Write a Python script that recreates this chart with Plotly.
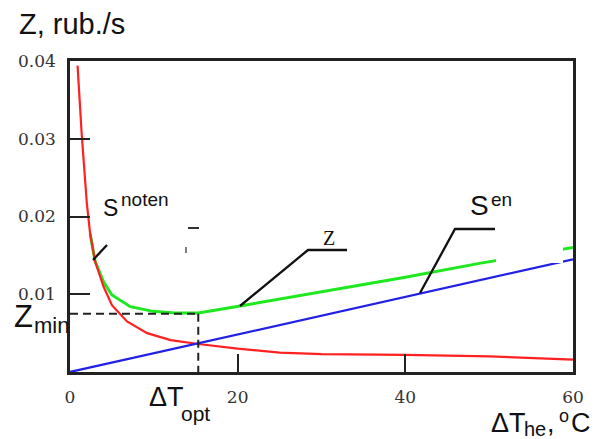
import plotly.graph_objects as go

# ---- data ----
red_x = [0.9, 1.4, 2.0, 2.4, 3.0, 4.0, 5.0, 6.8, 9.2, 12.0, 15.3, 20.0, 25.0, 30.0, 40.0, 50.0, 60.0]
red_y = [0.0394, 0.0305, 0.0218, 0.0178, 0.0142, 0.0110, 0.0086, 0.0065, 0.0050, 0.0041, 0.0036,
         0.0030, 0.0025, 0.0023, 0.0022, 0.0020, 0.0016]

green_x = [2.4, 3.0, 4.0, 5.0, 7.2, 9.9, 12.5, 15.3, 20.3, 30.0, 40.0, 49.0, 60.0]
green_y = [0.0178, 0.0142, 0.0116, 0.0099, 0.0084, 0.0078, 0.0076, 0.0076, 0.0085, 0.0103, 0.0122,
           0.0140, 0.0160]

blue_x = [0.0, 60.0]
blue_y = [0.0, 0.0145]

t_opt = 15.3
z_min = 0.0075

x_ticks = [0, 20, 40, 60]
x_ticklabels = ["0", "20", "40", "60"]
y_ticks = [0.01, 0.02, 0.03, 0.04]
y_ticklabels = ["0.01", "0.02", "0.03", "0.04"]

# ---- geometry helpers (viewport pixel -> coords) ----
W, H = 601, 439
OFF = 8  # default page body margin
PL, PR, PT, PB = 70, 573, 61, 372
XMAX, YMAX = 60.0, 0.04


def dx(px):
    return (px - PL) / (PR - PL) * XMAX


def dy(py):
    return (PB - py) / (PB - PT) * YMAX


def qx(px):
    return (px - PL) / (PR - PL)


def qy(py):
    return (PB - py) / (PB - PT)


fig = go.Figure()
fig.add_trace(go.Scatter(x=green_x, y=green_y, mode="lines",
                         line=dict(color="#1ee81e", width=3), hoverinfo="skip"))
fig.add_trace(go.Scatter(x=red_x, y=red_y, mode="lines",
                         line=dict(color="#ff2020", width=2.2), hoverinfo="skip"))
fig.add_trace(go.Scatter(x=blue_x, y=blue_y, mode="lines",
                         line=dict(color="#2020e6", width=2.2), hoverinfo="skip"))

shapes = []
# dashed optimum guides
shapes.append(dict(type="line", xref="x", yref="y", x0=0, y0=z_min, x1=t_opt, y1=z_min,
                   line=dict(color="#222", width=2, dash="8px,5px")))
shapes.append(dict(type="line", xref="x", yref="y", x0=t_opt, y0=z_min, x1=t_opt, y1=0,
                   line=dict(color="#222", width=2, dash="8px,5px")))
# white patch (erased area near S^en)
shapes.append(dict(type="rect", xref="x", yref="y", x0=dx(496), x1=dx(563), y0=dy(263), y1=dy(222),
                   fillcolor="white", line=dict(width=0), layer="above"))


def path(points):
    return "M " + " L ".join(f"{dx(a)},{dy(b)}" for a, b in points)


# leader lines
shapes.append(dict(type="path", xref="x", yref="y", path=path([(240, 306), (308, 250), (347, 250)]),
                   line=dict(color="#111", width=2.3)))
shapes.append(dict(type="path", xref="x", yref="y", path=path([(420, 293), (455, 229), (495, 229)]),
                   line=dict(color="#111", width=2.3)))
shapes.append(dict(type="path", xref="x", yref="y", path=path([(93, 260), (107, 245)]),
                   line=dict(color="#111", width=2.3)))
# small remnants
shapes.append(dict(type="path", xref="x", yref="y", path=path([(188, 228), (199, 228)]),
                   line=dict(color="#333", width=2)))
shapes.append(dict(type="path", xref="x", yref="y", path=path([(186, 247), (186, 253)]),
                   line=dict(color="#555", width=1.5)))

ann = []
SANS = "Liberation Sans, Arial, sans-serif"
SERIF = "Liberation Serif, Times New Roman, serif"


def label(text, px, py, size, family=SANS, xanchor="left", color="#111"):
    ann.append(dict(text=text, xref="paper", yref="paper", x=qx(px), y=qy(py),
                    xanchor=xanchor, yanchor="middle", showarrow=False,
                    font=dict(family=family, size=size, color=color)))


label("Z, rub./s", 17, 24, 29)
label("Z", 12, 316, 31)
label("min", 32, 325, 22)
label("ΔT", 147, 397, 27)
label("opt", 179, 413, 21)
label("ΔT", 489, 423, 27)
label("he", 522, 429, 20)
label(",", 545, 423, 27)
label("o", 557, 416, 18)
label("C", 569, 423, 27)
label("S", 101, 208, 23)
label("noten", 119, 199, 19)
label("S", 468, 205, 28)
label("en", 489, 199, 19)
label("Z", 328.5, 238, 20, family=SERIF, xanchor="center")

TICKFONT = dict(family="DejaVu Serif, serif", size=17, color="#333")

fig.update_layout(
    width=W - OFF, height=H - OFF,
    margin=dict(l=PL - OFF, r=W - PR, t=PT - OFF, b=H - PB, autoexpand=False),
    paper_bgcolor="white", plot_bgcolor="white",
    showlegend=False,
    shapes=shapes, annotations=ann,
    xaxis=dict(range=[0, XMAX], showgrid=False, zeroline=False,
               showline=True, mirror=True, linecolor="#222", linewidth=2.5,
               ticks="inside", ticklen=18, tickwidth=2, tickcolor="#222",
               tickvals=x_ticks, ticktext=x_ticklabels, ticklabelstandoff=8,
               tickfont=TICKFONT),
    yaxis=dict(range=[0, YMAX], showgrid=False, zeroline=False,
               showline=True, mirror=True, linecolor="#222", linewidth=2.5,
               ticks="inside", ticklen=20, tickwidth=2, tickcolor="#222",
               tickvals=y_ticks, ticktext=y_ticklabels, ticklabelstandoff=8,
               tickfont=TICKFONT),
)

fig.write_html("out.html")
